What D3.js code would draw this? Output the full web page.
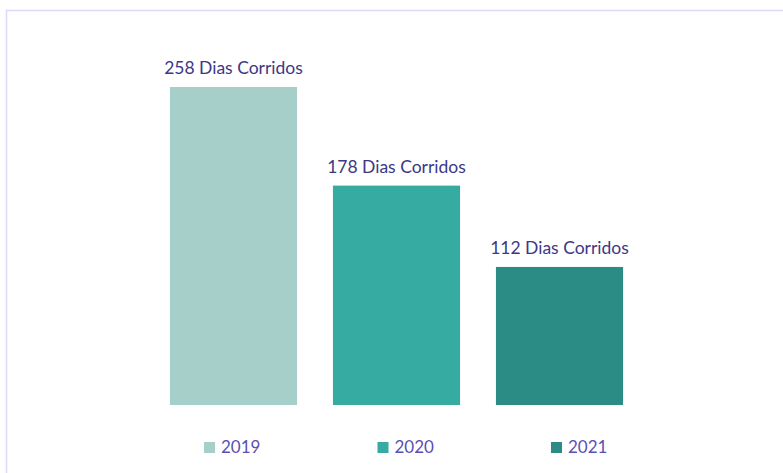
<!DOCTYPE html>
<meta charset="utf-8">
<script src="https://d3js.org/d3.v7.min.js"></script>
<style>
  body { margin: 0; background: #fff; }
  text { font-family: Lato, 'Open Sans', sans-serif; }
</style>
<body>
<div id="chart"></div>
<script>
// data
var years = ["2019", "2020", "2021"];
var days = [258, 178, 112];
var colors = ["#a6cfca", "#36aba2", "#2a8c84"];

var width = 783, height = 473;

var svg = d3.select("#chart")
  .append("svg")
    .attr("width", width)
    .attr("height", height);

// frame of the chart area
svg.append("rect")
  .attr("x", 6.5).attr("y", 10.5)
  .attr("width", 800).attr("height", 500)
  .attr("fill", "none")
  .attr("stroke", "#dcd8f6")
  .attr("stroke-width", 1.5);

var x = d3.scaleBand()
  .domain(years)
  .range([152, 641])
  .paddingInner(0.22)
  .paddingOuter(0.11);

var y = d3.scaleLinear()
  .domain([0, 258])
  .range([405, 87]);

// legend spread a little wider than the bars
var xl = d3.scalePoint()
  .domain(years)
  .range([204, 551]);

// bars
svg.selectAll("rect.bar")
  .data(years)
  .enter()
  .append("rect")
    .attr("class", "bar")
    .attr("x", function(d) { return x(d); })
    .attr("y", function(d, i) { return y(days[i]); })
    .attr("width", x.bandwidth())
    .attr("height", function(d, i) { return y(0) - y(days[i]); })
    .attr("fill", function(d, i) { return colors[i]; });

// value labels
svg.selectAll("text.lbl")
  .data(years)
  .enter()
  .append("text")
    .attr("class", "lbl")
    .attr("x", function(d) { return x(d) + x.bandwidth() / 2; })
    .attr("y", function(d, i) { return y(days[i]) - 13; })
    .attr("text-anchor", "middle")
    .style("font-size", "17.5px")
    .style("fill", "#3c3886")
    .text(function(d, i) { return days[i] + " Dias Corridos"; });

// legend
var leg = svg.selectAll("g.leg")
  .data(years)
  .enter()
  .append("g")
    .attr("class", "leg")
    .attr("transform", function(d) { return "translate(" + xl(d) + ",442)"; });

leg.append("rect")
  .attr("width", 11).attr("height", 11)
  .attr("fill", function(d, i) { return colors[i]; });

leg.append("text")
  .attr("x", 17).attr("y", 11)
  .style("font-size", "17px")
  .style("fill", "#5a4fb4")
  .text(function(d) { return d; });
</script>
</body>
